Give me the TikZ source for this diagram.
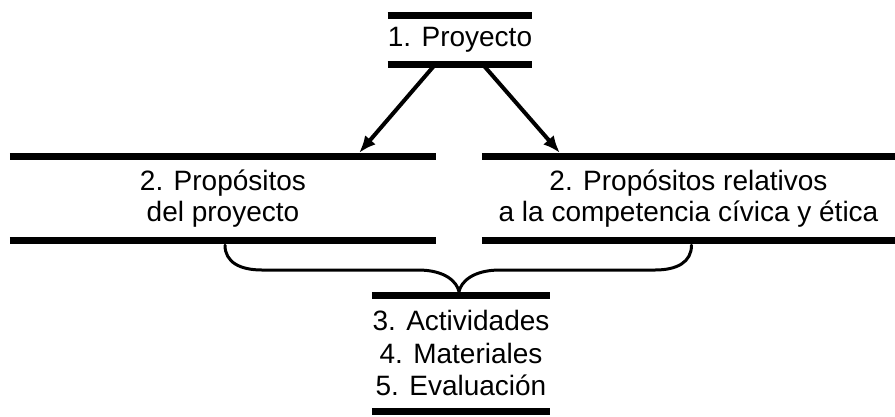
\documentclass[tikz,border=0pt]{standalone}
\usepackage{fontspec}
\setmainfont{Liberation Sans}
\usepackage{tikz}
\usetikzlibrary{arrows.meta,positioning}
\tikzstyle{block} = [rectangle, inner sep=0pt, align=center, font=\fontsize{28}{31}\selectfont]
\tikzstyle{bar} = [line width=7pt]
\tikzstyle{arrow} = [-{Latex[length=17pt,width=14pt]}, line width=4pt]
\tikzstyle{brace} = [line width=3pt, line cap=round]

\begin{document}
\begin{tikzpicture}[x=1pt, y=-1pt, node distance=92pt]
\useasboundingbox (0,0) rectangle (895,416);
\node[block, minimum width=144pt, minimum height=49pt] (proyecto) at (460,40) {1. Proyecto};
\node[block, minimum width=426pt, minimum height=84pt] (propL) at (223,198.5) {2. Prop\'ositos\\del proyecto};
\node[block, minimum width=413pt, minimum height=84pt] (propR) at (688.5,198.5) {2. Prop\'ositos relativos\\a la competencia c\'ivica y \'etica};
\node[block, minimum width=178pt, minimum height=115pt, font=\fontsize{28}{32.5}\selectfont, below=231pt of proyecto, xshift=1pt] (act) {3. Actividades\\4. Materiales\\5. Evaluaci\'on};

% barras
\foreach \n in {proyecto, propL, propR, act} {
  \draw[bar] (\n.north west) -- (\n.north east);
  \draw[bar] (\n.south west) -- (\n.south east);
}

\draw[arrow] ([xshift=-25pt]proyecto.south) -- ([xshift=-77pt, yshift=3.5pt]propL.north east);
\draw[arrow] ([xshift=23pt]proyecto.south) -- ([xshift=78pt, yshift=3.5pt]propR.north west);

% llave
\coordinate (tip) at ([xshift=-2pt, yshift=4pt]act.north);
\draw[brace] ([xshift=2pt, yshift=-4.5pt]propL.south) .. controls +(0,17) and +(-22,0) .. (262,270)
  -- (418,270) .. controls +(27,0) and +(-2,-10) .. (tip)
  .. controls +(2,-10) and +(-27,0) .. (500,270)
  -- (655,270) .. controls +(22,0) and +(0,17) .. ([xshift=3pt, yshift=-4.5pt]propR.south);
\end{tikzpicture}
\end{document}
